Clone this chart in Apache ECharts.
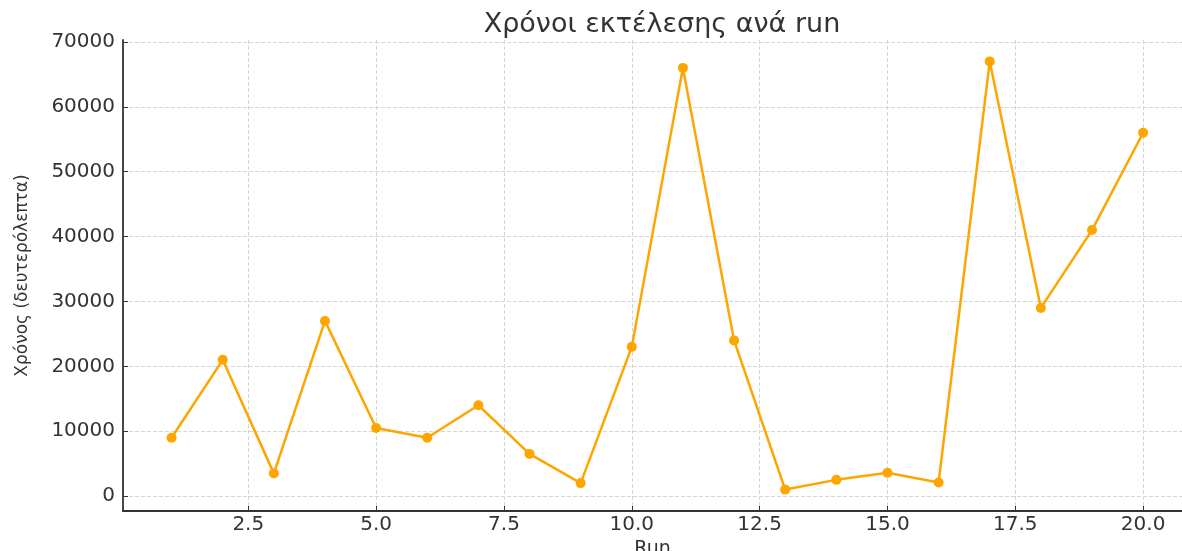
<!DOCTYPE html>
<html>
<head>
<meta charset="utf-8">
<script src="https://cdn.jsdelivr.net/npm/echarts@6/dist/echarts.min.js"></script>
<style>html,body{margin:0;padding:0;background:#fff}#c{width:1182px;height:551px}</style>
</head>
<body>
<div id="c"></div>
<script>
const runs = [1,2,3,4,5,6,7,8,9,10,11,12,13,14,15,16,17,18,19,20];
const times = [9000,21000,3500,27000,10500,9000,14000,6500,2000,23000,66000,24000,1000,2500,3600,2100,67000,29000,41000,56000];
const xTicks = [2.5,5,7.5,10,12.5,15,17.5,20];
const yTicks = [0,10000,20000,30000,40000,50000,60000,70000];

const font = 'DejaVu Sans';
const chart = echarts.init(document.getElementById('c'), null, {renderer:'canvas'});
chart.setOption({
  animation:false,
  backgroundColor:'#fff',
  title:{text:'Χρόνοι εκτέλεσης ανά run',left:657,top:6,textAlign:'center',
    textStyle:{fontFamily:font,fontSize:27,fontWeight:'normal',color:'#333'}},
  grid:{left:123,right:0,top:40,bottom:40,containLabel:false,outerBoundsMode:'none'},
  xAxis:{type:'value',min:0.05,max:20.76,
    name:'Run',nameLocation:'middle',nameGap:26,
    nameTextStyle:{fontFamily:font,fontSize:19,color:'#333'},
    axisLine:{show:true,onZero:false,lineStyle:{color:'#333',width:1.8}},
    axisTick:{show:true,inside:true,length:5,customValues:xTicks,lineStyle:{color:'#333'}},
    axisLabel:{customValues:xTicks,fontFamily:font,fontSize:20,color:'#333',margin:4,
      formatter:v=>v.toFixed(1)},
    splitLine:{show:true,lineStyle:{color:'#d6d6d6',type:'dashed',width:1}}
  },
  yAxis:{type:'value',min:-2300,max:70300,
    name:'Χρόνος (δευτερόλεπτα)',nameLocation:'middle',nameGap:92,nameRotate:90,
    nameTextStyle:{fontFamily:font,fontSize:17,color:'#333'},
    axisLine:{show:true,onZero:false,lineStyle:{color:'#333',width:1.8}},
    axisTick:{show:true,inside:true,length:5,customValues:yTicks,lineStyle:{color:'#333'}},
    axisLabel:{customValues:yTicks,fontFamily:font,fontSize:20,color:'#333',margin:8,
      formatter:v=>String(v)},
    splitLine:{show:true,lineStyle:{color:'#d6d6d6',type:'dashed',width:1}}
  },
  series:[{type:'line',data:runs.map((r,i)=>[r,times[i]]),
    symbol:'circle',symbolSize:10,
    itemStyle:{color:'#FFA500'},
    lineStyle:{color:'#FFA500',width:2.5}}]
});
</script>
</body>
</html>
